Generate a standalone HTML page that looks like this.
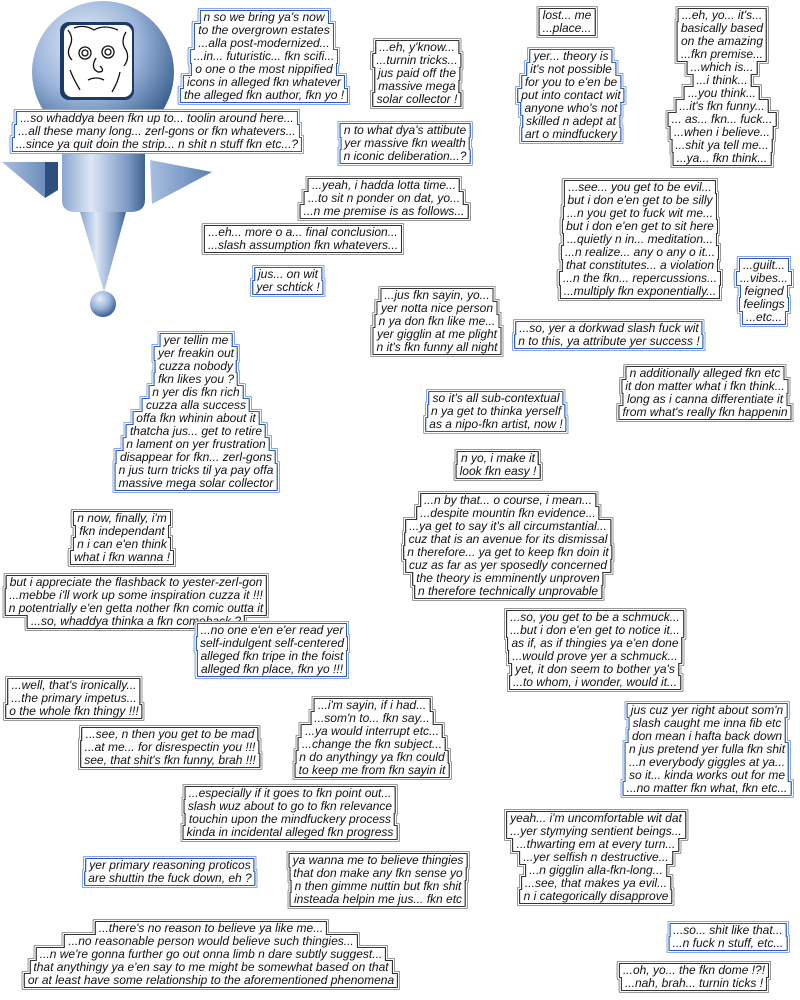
<!DOCTYPE html>
<html><head><meta charset="utf-8">
<style>
html,body{margin:0;padding:0;background:#fff;}
body{width:800px;height:1000px;position:relative;overflow:hidden;font-family:"Liberation Sans",sans-serif;}
.b{position:absolute;transform:translateX(-50%);font-style:italic;font-size:12px;line-height:13px;color:#111;white-space:nowrap;text-align:center;}
.b span{display:block;width:fit-content;margin:0 auto;padding:0 3px;background:#fff;}
.g{filter:drop-shadow(1px 0 0 #333) drop-shadow(-1px 0 0 #333) drop-shadow(0 1px 0 #333) drop-shadow(0 -1px 0 #333) drop-shadow(1px 0 0 #fff) drop-shadow(-1px 0 0 #fff) drop-shadow(0 1px 0 #fff) drop-shadow(0 -1px 0 #fff) drop-shadow(1px 0 0 #999) drop-shadow(-1px 0 0 #999) drop-shadow(0 1px 0 #999) drop-shadow(0 -1px 0 #999);}
.u{filter:drop-shadow(1px 0 0 #2a5bb0) drop-shadow(-1px 0 0 #2a5bb0) drop-shadow(0 1px 0 #2a5bb0) drop-shadow(0 -1px 0 #2a5bb0) drop-shadow(1px 0 0 #fff) drop-shadow(-1px 0 0 #fff) drop-shadow(0 1px 0 #fff) drop-shadow(0 -1px 0 #fff) drop-shadow(1px 0 0 #8aa8dc) drop-shadow(-1px 0 0 #8aa8dc) drop-shadow(0 1px 0 #8aa8dc) drop-shadow(0 -1px 0 #8aa8dc);}
</style></head><body>
<svg width="230" height="320" style="position:absolute;left:0;top:0" viewBox="0 0 230 320">
<defs>
<radialGradient id="sp" cx="0.38" cy="0.3" r="0.75"><stop offset="0" stop-color="#e6eef9"/><stop offset="0.5" stop-color="#9bb5da"/><stop offset="1" stop-color="#2f5586"/></radialGradient>
<linearGradient id="cy" x1="0" x2="1"><stop offset="0" stop-color="#8aa6cf"/><stop offset="0.35" stop-color="#dde7f5"/><stop offset="0.8" stop-color="#7b98c4"/><stop offset="1" stop-color="#3e628f"/></linearGradient>
<linearGradient id="fn" x1="0" x2="1"><stop offset="0" stop-color="#a9c0e0"/><stop offset="1" stop-color="#5a7fb0"/></linearGradient>
</defs>
<polygon points="2,162 58,162 45,198" fill="url(#fn)"/>
<polygon points="45,162 58,162 58,190 45,198" fill="#2e4f7d"/>
<polygon points="150,160 212,172 152,204" fill="url(#fn)"/>
<circle cx="103" cy="72" r="71" fill="url(#sp)"/>
<rect x="60" y="22" width="74" height="78" rx="9" fill="#1e3a63"/>
<rect x="64" y="25" width="68" height="72" rx="8" fill="#fff"/>
<g fill="none" stroke="#111" stroke-width="1.3">
<circle cx="85" cy="53" r="6"/><circle cx="85" cy="53" r="3"/><circle cx="108" cy="52" r="6"/><circle cx="108" cy="52" r="3"/>
<path d="M96 58 q-6 10 2 14 q8 0 2-6"/><path d="M88 80 q8 -4 16 0"/>
<path d="M68 30 q6 8 2 16 q-4 8 2 14 M126 32 q-6 10 0 18 q4 8 -2 16 M74 28 q10 -4 20 2 q10 -6 24 0 M70 70 q4 10 10 20 M120 72 q-2 10 -8 20"/>
</g>
<path d="M62 150 L145 150 L145 200 Q145 212 130 212 L76 212 Q62 212 62 200 Z" fill="url(#cy)"/>
<polygon points="80,212 126,212 104,292" fill="url(#cy)"/>
<circle cx="103" cy="304" r="13" fill="url(#sp)"/>
</svg>

<div class="b u" style="left:264px;top:11px"><span>n so we bring ya's now</span><span>to the overgrown estates</span><span>...alla post-modernized...</span><span>...in... futuristic... fkn scifi...</span><span>o one o the most nippified</span><span>icons in alleged fkn whatever</span><span>the alleged fkn author, fkn yo !</span></div>
<div class="b u" style="left:157px;top:112px"><span>...so whaddya been fkn up to... toolin around here...</span><span>...all these many long... zerl-gons or fkn whatevers...</span><span>...since ya quit doin the strip... n shit n stuff fkn etc...?</span></div>
<div class="b g" style="left:417px;top:41px"><span>...eh, y'know...</span><span>...turnin tricks...</span><span>jus paid off the</span><span>massive mega</span><span>solar collector !</span></div>
<div class="b u" style="left:405px;top:124px"><span>n to what dya's attibute</span><span>yer massive fkn wealth</span><span>n iconic deliberation...?</span></div>
<div class="b g" style="left:384px;top:179px"><span>...yeah, i hadda lotta time...</span><span>...to sit n ponder on dat, yo...</span><span>...n me premise is as follows...</span></div>
<div class="b g" style="left:303px;top:226px"><span>...eh... more o a... final conclusion...</span><span>...slash assumption fkn whatevers...</span></div>
<div class="b u" style="left:288px;top:268px"><span>jus... on wit</span><span>yer schtick !</span></div>
<div class="b g" style="left:567px;top:9px"><span>lost... me</span><span>...place...</span></div>
<div class="b u" style="left:571px;top:50px"><span>yer... theory is</span><span>it's not possible</span><span>for you to e'en be</span><span>put into contact wit</span><span>anyone who's not</span><span>skilled n adept at</span><span>art o mindfuckery</span></div>
<div class="b g" style="left:722px;top:9px"><span>...eh, yo... it's...</span><span>basically based</span><span>on the amazing</span><span>...fkn premise...</span><span>...which is...</span><span>...i think...</span><span>...you think...</span><span>...it's fkn funny...</span><span>... as... fkn... fuck...</span><span>...when i believe...</span><span>...shit ya tell me...</span><span>...ya... fkn think...</span></div>
<div class="b g" style="left:640px;top:181px"><span>...see... you get to be evil...</span><span>but i don e'en get to be silly</span><span>...n you get to fuck wit me...</span><span>but i don e'en get to sit here</span><span>...quietly n in... meditation...</span><span>...n realize... any o any o it...</span><span>that constitutes... a violation</span><span>...n the fkn... repercussions...</span><span>...multiply fkn exponentially...</span></div>
<div class="b u" style="left:764px;top:259px"><span>...guilt...</span><span>...vibes...</span><span>feigned</span><span>feelings</span><span>...etc...</span></div>
<div class="b g" style="left:437px;top:289px"><span>...jus fkn sayin, yo...</span><span>yer notta nice person</span><span>n ya don fkn like me...</span><span>yer gigglin at me plight</span><span>n it's fkn funny all night</span></div>
<div class="b u" style="left:609px;top:322px"><span>...so, yer a dorkwad slash fuck wit</span><span>n to this, ya attribute yer success !</span></div>
<div class="b g" style="left:705px;top:367px"><span>n additionally alleged fkn etc</span><span>it don matter what i fkn think...</span><span>long as i canna differentiate it</span><span>from what's really fkn happenin</span></div>
<div class="b u" style="left:196px;top:334px"><span>yer tellin me</span><span>yer freakin out</span><span>cuzza nobody</span><span>fkn likes you ?</span><span>n yer dis fkn rich</span><span>cuzza alla success</span><span>offa fkn whinin about it</span><span>thatcha jus... get to retire</span><span>n lament on yer frustration</span><span>disappear for fkn... zerl-gons</span><span>n jus turn tricks til ya pay offa</span><span>massive mega solar collector</span></div>
<div class="b u" style="left:496px;top:392px"><span>so it's all sub-contextual</span><span>n ya get to thinka yerself</span><span>as a nipo-fkn artist, now !</span></div>
<div class="b g" style="left:498px;top:452px"><span>n yo, i make it</span><span>look fkn easy !</span></div>
<div class="b g" style="left:508px;top:494px"><span>...n by that... o course, i mean...</span><span>...despite mountin fkn evidence...</span><span>...ya get to say it's all circumstantial...</span><span>cuz that is an avenue for its dismissal</span><span>n therefore... ya get to keep fkn doin it</span><span>cuz as far as yer sposedly concerned</span><span>the theory is emminently unproven</span><span>n therefore technically unprovable</span></div>
<div class="b g" style="left:122px;top:512px"><span>n now, finally, i'm</span><span>fkn independant</span><span>n i can e'en think</span><span>what i fkn wanna !</span></div>
<div class="b g" style="left:136px;top:576px"><span>but i appreciate the flashback to yester-zerl-gon</span><span>...mebbe i'll work up some inspiration cuzza it !!!</span><span>n potentrially e'en getta nother fkn comic outta it</span><span>...so, whaddya thinka a fkn comeback ?</span></div>
<div class="b u" style="left:272px;top:624px"><span>...no one e'en e'er read yer</span><span>self-indulgent self-centered</span><span>alleged fkn tripe in the foist</span><span>alleged fkn place, fkn yo !!!</span></div>
<div class="b g" style="left:595px;top:611px"><span>...so, you get to be a schmuck...</span><span>...but i don e'en get to notice it...</span><span>as if, as if thingies ya e'en done</span><span>...would prove yer a schmuck...</span><span>yet, it don seem to bother ya's</span><span>...to whom, i wonder, would it...</span></div>
<div class="b g" style="left:74px;top:679px"><span>...well, that's ironically...</span><span>...the primary impetus...</span><span>o the whole fkn thingy !!!</span></div>
<div class="b g" style="left:170px;top:728px"><span>...see, n then you get to be mad</span><span>...at me... for disrespectin you !!!</span><span>see, that shit's fkn funny, brah !!!</span></div>
<div class="b g" style="left:372px;top:699px"><span>...i'm sayin, if i had...</span><span>...som'n to... fkn say...</span><span>...ya would interrupt etc...</span><span>...change the fkn subject...</span><span>n do anythingy ya fkn could</span><span>to keep me from fkn sayin it</span></div>
<div class="b u" style="left:707px;top:704px"><span>jus cuz yer right about som'n</span><span>slash caught me inna fib etc</span><span>don mean i hafta back down</span><span>n jus pretend yer fulla fkn shit</span><span>...n everybody giggles at ya...</span><span>so it... kinda works out for me</span><span>...no matter fkn what, fkn etc...</span></div>
<div class="b g" style="left:290px;top:787px"><span>...especially if it goes to fkn point out...</span><span>slash wuz about to go to fkn relevance</span><span>touchin upon the mindfuckery process</span><span>kinda in incidental alleged fkn progress</span></div>
<div class="b g" style="left:596px;top:812px"><span>yeah... i'm uncomfortable wit dat</span><span>...yer stymying sentient beings...</span><span>...thwarting em at every turn...</span><span>...yer selfish n destructive...</span><span>...n gigglin alla-fkn-long...</span><span>...see, that makes ya evil...</span><span>n i categorically disapprove</span></div>
<div class="b g" style="left:378px;top:854px"><span>ya wanna me to believe thingies</span><span>that don make any fkn sense yo</span><span>n then gimme nuttin but fkn shit</span><span>insteada helpin me jus... fkn etc</span></div>
<div class="b u" style="left:170px;top:859px"><span>yer primary reasoning proticos</span><span>are shuttin the fuck down, eh ?</span></div>
<div class="b g" style="left:211px;top:922px"><span>...there's no reason to believe ya like me...</span><span>...no reasonable person would believe such thingies...</span><span>...n we're gonna further go out onna limb n dare subtly suggest...</span><span>that anythingy ya e'en say to me might be somewhat based on that</span><span>or at least have some relationship to the aforementioned phenomena</span></div>
<div class="b u" style="left:728px;top:924px"><span>...so... shit like that...</span><span>...n fuck n stuff, etc...</span></div>
<div class="b g" style="left:694px;top:964px"><span>...oh, yo... the fkn dome !?!</span><span>...nah, brah... turnin ticks !</span></div>
</body></html>
